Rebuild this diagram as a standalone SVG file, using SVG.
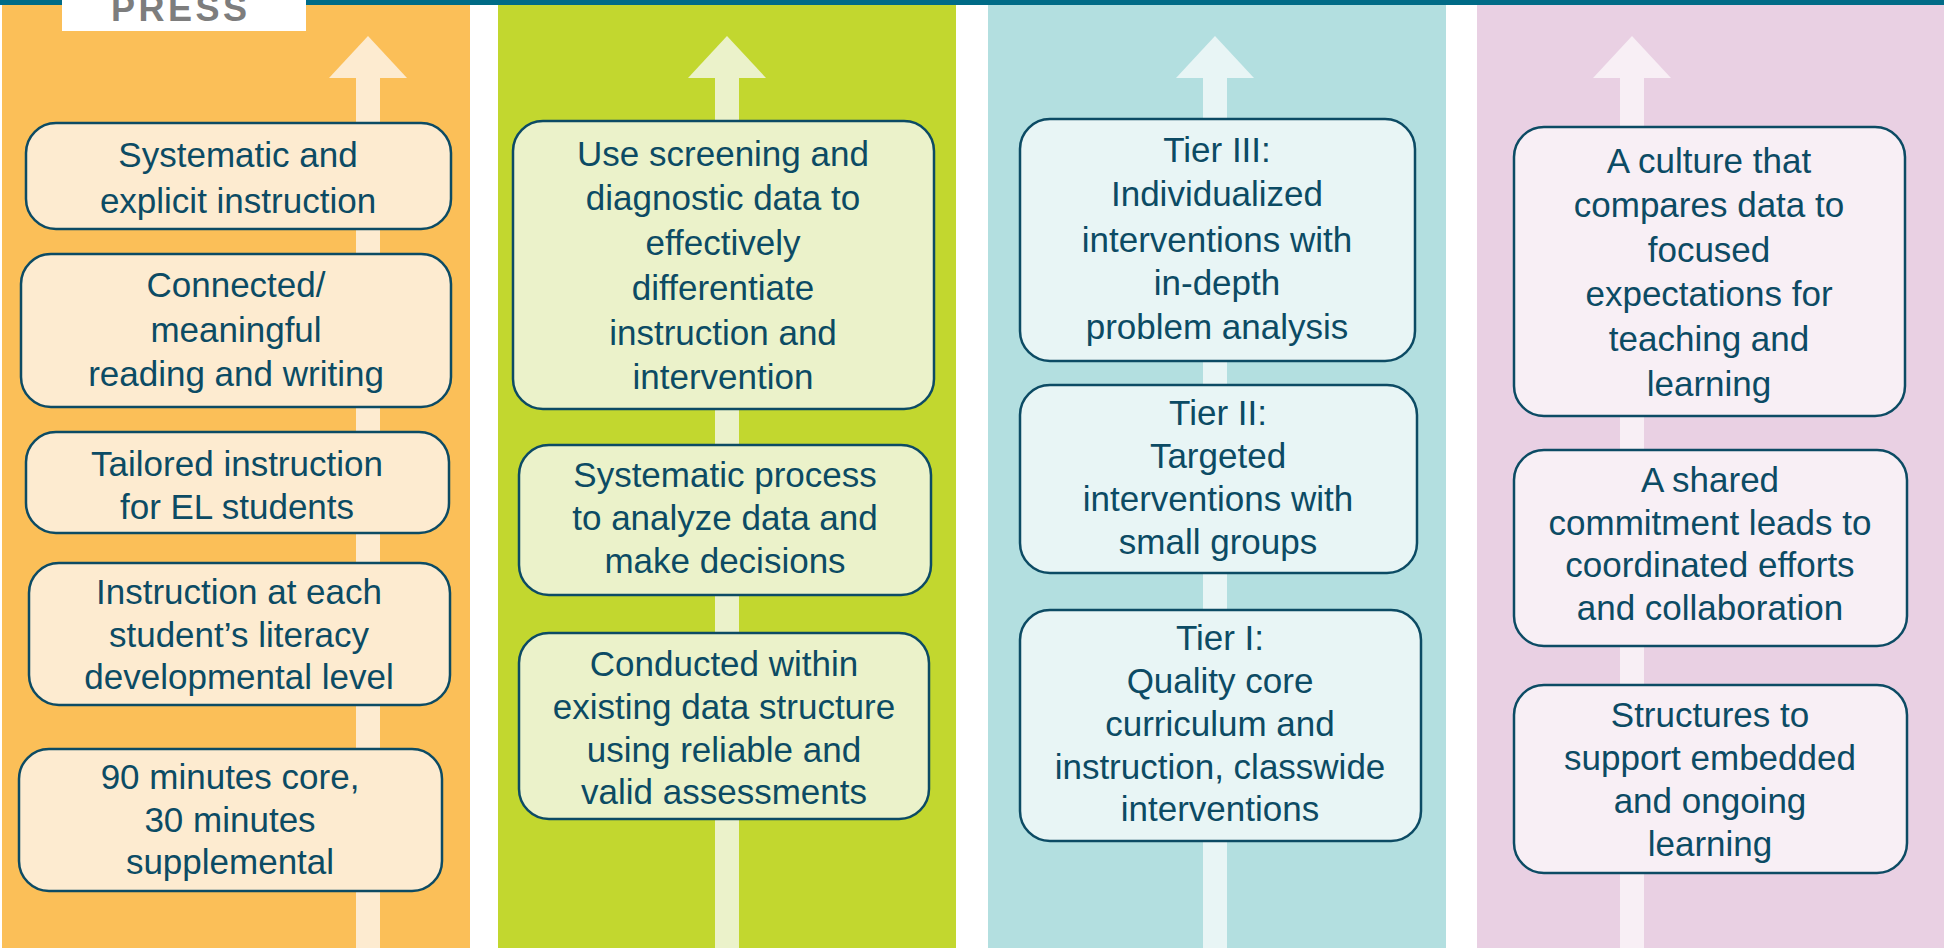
<svg xmlns="http://www.w3.org/2000/svg" width="1944" height="948" viewBox="0 0 1944 948">
<style>
.box{stroke:#0c4b64;stroke-width:2.5}
.t{font-family:"Liberation Sans",Arial,sans-serif;font-size:35px;fill:#0c4b64;text-anchor:middle}
.c1{fill:#fdebd0}.c2{fill:#ebf2ca}.c3{fill:#e8f5f5}.c4{fill:#f8eff5}
</style>
<rect x="0" y="0" width="1944" height="948" fill="#ffffff"/>
<g id="backgrounds">
<rect x="2" y="5" width="468" height="943" fill="#fbbf58"/>
<rect x="498" y="5" width="458" height="943" fill="#c2d72f"/>
<rect x="988" y="5" width="458" height="943" fill="#b3dfe0"/>
<rect x="1477" y="5" width="467" height="943" fill="#e9d0e3"/>
</g>
<rect id="topbar" x="0" y="0" width="1944" height="5" fill="#006b87"/>
<g id="press">
<rect x="62" y="0" width="244" height="31" fill="#ffffff"/>
<text x="111" y="21" font-family="'Liberation Sans',Arial,sans-serif" font-size="36" font-weight="bold" fill="#7d7d7d" letter-spacing="3.5">PRESS</text>
</g>
<g id="connectors">
<g class="c1"><polygon points="329,78 368,36 407,78"/><rect x="356" y="77" width="24" height="871"/></g>
<g class="c2"><polygon points="688,78 727,36 766,78"/><rect x="715" y="77" width="24" height="871"/></g>
<g class="c3"><polygon points="1176,78 1215,36 1254,78"/><rect x="1203" y="77" width="24" height="871"/></g>
<g class="c4"><polygon points="1593,78 1632,36 1671,78"/><rect x="1620" y="77" width="24" height="871"/></g>
</g>
<g id="col1">
<g id="n1a"><rect class="box c1" x="26" y="123" width="425" height="106" rx="30"/>
<text class="t" x="238"><tspan y="167">Systematic and</tspan><tspan x="238" y="213">explicit instruction</tspan></text></g>
<g id="n1b"><rect class="box c1" x="21" y="254" width="430" height="153" rx="30"/>
<text class="t" x="236"><tspan y="297">Connected/</tspan><tspan x="236" y="342">meaningful</tspan><tspan x="236" y="386">reading and writing</tspan></text></g>
<g id="n1c"><rect class="box c1" x="26" y="432" width="423" height="101" rx="30"/>
<text class="t" x="237"><tspan y="476">Tailored instruction</tspan><tspan x="237" y="519">for EL students</tspan></text></g>
<g id="n1d"><rect class="box c1" x="29" y="563" width="421" height="142" rx="30"/>
<text class="t" x="239"><tspan y="604">Instruction at each</tspan><tspan x="239" y="647">student’s literacy</tspan><tspan x="239" y="689">developmental level</tspan></text></g>
<g id="n1e"><rect class="box c1" x="19" y="749" width="423" height="142" rx="30"/>
<text class="t" x="230"><tspan y="789">90 minutes core,</tspan><tspan x="230" y="832">30 minutes</tspan><tspan x="230" y="874">supplemental</tspan></text></g>
</g>
<g id="col2">
<g id="n2a"><rect class="box c2" x="513" y="121" width="421" height="288" rx="30"/>
<text class="t" x="723"><tspan y="166">Use screening and</tspan><tspan x="723" y="210">diagnostic data to</tspan><tspan x="723" y="255">effectively</tspan><tspan x="723" y="300">differentiate</tspan><tspan x="723" y="345">instruction and</tspan><tspan x="723" y="389">intervention</tspan></text></g>
<g id="n2b"><rect class="box c2" x="519" y="445" width="412" height="150" rx="30"/>
<text class="t" x="725"><tspan y="487">Systematic process</tspan><tspan x="725" y="530">to analyze data and</tspan><tspan x="725" y="573">make decisions</tspan></text></g>
<g id="n2c"><rect class="box c2" x="519" y="633" width="410" height="186" rx="30"/>
<text class="t" x="724"><tspan y="676">Conducted within</tspan><tspan x="724" y="719">existing data structure</tspan><tspan x="724" y="762">using reliable and</tspan><tspan x="724" y="804">valid assessments</tspan></text></g>
</g>
<g id="col3">
<g id="n3a"><rect class="box c3" x="1020" y="119" width="395" height="242" rx="30"/>
<text class="t" x="1217"><tspan y="162">Tier III:</tspan><tspan x="1217" y="206">Individualized</tspan><tspan x="1217" y="252">interventions with</tspan><tspan x="1217" y="295">in-depth</tspan><tspan x="1217" y="339">problem analysis</tspan></text></g>
<g id="n3b"><rect class="box c3" x="1020" y="385" width="397" height="188" rx="30"/>
<text class="t" x="1218"><tspan y="425">Tier II:</tspan><tspan x="1218" y="468">Targeted</tspan><tspan x="1218" y="511">interventions with</tspan><tspan x="1218" y="554">small groups</tspan></text></g>
<g id="n3c"><rect class="box c3" x="1020" y="610" width="401" height="231" rx="30"/>
<text class="t" x="1220"><tspan y="650">Tier I:</tspan><tspan x="1220" y="693">Quality core</tspan><tspan x="1220" y="736">curriculum and</tspan><tspan x="1220" y="779">instruction, classwide</tspan><tspan x="1220" y="821">interventions</tspan></text></g>
</g>
<g id="col4">
<g id="n4a"><rect class="box c4" x="1514" y="127" width="391" height="289" rx="30"/>
<text class="t" x="1709"><tspan y="173">A culture that</tspan><tspan x="1709" y="217">compares data to</tspan><tspan x="1709" y="262">focused</tspan><tspan x="1709" y="306">expectations for</tspan><tspan x="1709" y="351">teaching and</tspan><tspan x="1709" y="396">learning</tspan></text></g>
<g id="n4b"><rect class="box c4" x="1514" y="450" width="393" height="196" rx="30"/>
<text class="t" x="1710"><tspan y="492">A shared</tspan><tspan x="1710" y="535">commitment leads to</tspan><tspan x="1710" y="577">coordinated efforts</tspan><tspan x="1710" y="620">and collaboration</tspan></text></g>
<g id="n4c"><rect class="box c4" x="1514" y="685" width="393" height="188" rx="30"/>
<text class="t" x="1710"><tspan y="727">Structures to</tspan><tspan x="1710" y="770">support embedded</tspan><tspan x="1710" y="813">and ongoing</tspan><tspan x="1710" y="856">learning</tspan></text></g>
</g>
</svg>
